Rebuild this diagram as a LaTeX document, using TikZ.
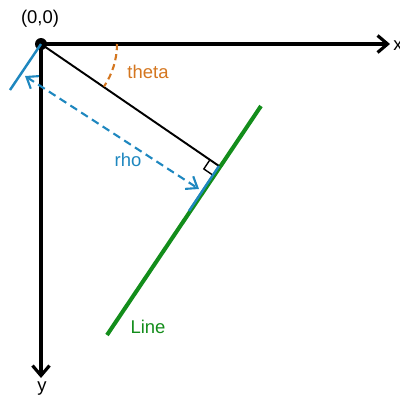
\documentclass[tikz,border=0pt]{standalone}
\usepackage{fontspec}
\setmainfont{Liberation Sans}
\usepackage{tikz}
\usetikzlibrary{arrows.meta, calc}
\definecolor{thetaorange}{HTML}{D4761F}
\definecolor{rhoblue}{HTML}{1E87BF}
\definecolor{linegreen}{HTML}{138D1B}

\begin{document}
\begin{tikzpicture}[
    x=0.02cm, y=-0.02cm,
    axis/.style={line width=2pt, -{Straight Barb[length=2mm, width=3.4mm, line width=1.8pt]}},
    normal/.style={line width=1.1pt},
    houghline/.style={line width=2.3pt, linegreen},
    tick/.style={line width=1.4pt, rhoblue},
    rhoarrow/.style={line width=1.2pt, rhoblue, dash pattern=on 4.5pt off 2.8pt,
                     {Straight Barb[length=2mm, width=3mm, line width=1.2pt]}-{Straight Barb[length=2mm, width=3mm, line width=1.2pt]}},
    anglearc/.style={line width=1.2pt, thetaorange, dash pattern=on 3.5pt off 2.3pt},
    lbl/.style={font=\fontsize{10.5}{12}\selectfont, inner sep=1pt}
]
    \useasboundingbox (0,0) rectangle (400,397);

    % Nodes
    \node[circle, fill=black, inner sep=0pt, minimum size=0.24cm] (O) at (41,44) {};
    \coordinate (xend) at (390,44);
    \coordinate (yend) at (41,378);
    \coordinate (lineA) at (107,335);
    \coordinate (lineB) at (261,106);
    \coordinate (foot) at (219,166);
    \coordinate (tickO) at (10,90);
    \coordinate (tickF) at (189,211);
    \coordinate (rhoS) at (25,76);
    \coordinate (rhoE) at (199,189);
    \coordinate (thetaS) at (117,44);
    \coordinate (sq1) at ($(foot)!0.22cm!(O.center)$);
    \coordinate (sq3) at ($(foot)!0.22cm!(tickF)$);
    \coordinate (sq2) at ($(sq1)+(sq3)-(foot)$);

    % Arrows
    \draw[axis] (O.center) -- (xend);
    \draw[axis] (O.center) -- (yend);
    \draw[houghline] (lineA) -- (lineB);
    \draw[normal] (O.center) -- (foot);
    \draw[normal, line width=0.8pt] (sq1) -- (sq2) -- (sq3);
    \draw[tick] (O.center) -- (tickO);
    \draw[tick] (foot) -- (tickF);
    \draw[rhoarrow] (rhoS) -- (rhoE);
    \draw[anglearc] (thetaS) arc[start angle=0, end angle=-34, radius=1.52cm];

    % Labels
    \node[lbl] (origin) at (40,19) {(0,0)};
    \node[lbl, thetaorange] (theta) at (148,72) {theta};
    \node[lbl, rhoblue] (rho) at (128,160) {rho};
    \node[lbl, linegreen] (line) at (148,327) {Line};
    \node[lbl] (xlab) at (398,46) {x};
    \node[lbl] (ylab) at (42,389) {y};
\end{tikzpicture}
\end{document}
